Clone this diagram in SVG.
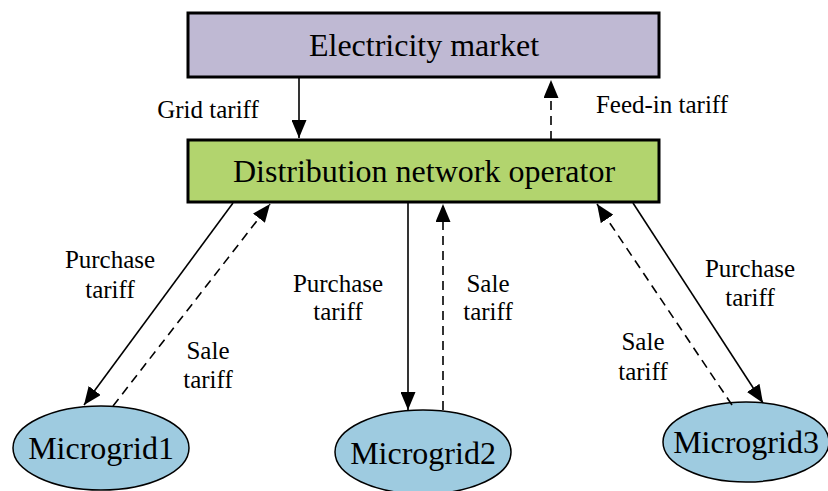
<svg xmlns="http://www.w3.org/2000/svg" width="828" height="491" viewBox="0 0 828 491">
<defs>
<marker id="ah" markerUnits="userSpaceOnUse" markerWidth="18" markerHeight="15" viewBox="0 0 18 15" refX="18" refY="7.5" orient="auto">
<path d="M0,0 L18,7.5 L0,15 Z" fill="#000"/>
</marker>
<style>
.box{stroke:#000;stroke-width:3}
.ell{fill:#9ECBE0;stroke:#000;stroke-width:1.5}
.t{font-family:"Liberation Serif","Times New Roman",serif;fill:#000;text-anchor:middle}
.big{font-size:32px}
.mg{font-size:32px}
.lb{font-size:25px}
.s{stroke:#000;stroke-width:1.6;fill:none;marker-end:url(#ah)}
.d{stroke:#000;stroke-width:1.6;fill:none;stroke-dasharray:9,6;marker-end:url(#ah)}
</style>
</defs>
<rect width="828" height="491" fill="#fff"/>
<g id="market">
<rect class="box" x="188" y="13" width="471" height="64" fill="#BFB9D3"/>
<text class="t big" x="424" y="56">Electricity market</text>
</g>
<g id="dno">
<rect class="box" x="188" y="140" width="471" height="62" fill="#B2D46E"/>
<text class="t big" x="424" y="182">Distribution network operator</text>
</g>
<g id="mg1">
<ellipse class="ell" cx="101" cy="448" rx="88" ry="42"/>
<text class="t mg" x="101" y="459">Microgrid1</text>
</g>
<g id="mg2">
<ellipse class="ell" cx="423" cy="452" rx="88" ry="42"/>
<text class="t mg" x="423" y="464">Microgrid2</text>
</g>
<g id="mg3">
<ellipse class="ell" cx="746" cy="442" rx="83" ry="40"/>
<text class="t mg" x="746" y="453">Microgrid3</text>
</g>
<g id="connectors">
<line class="s" x1="299" y1="77" x2="299" y2="138"/>
<line class="d" x1="551" y1="140" x2="551" y2="80"/>
<line class="s" x1="233" y1="203" x2="84" y2="405"/>
<line class="d" x1="113" y1="406" x2="270" y2="204"/>
<line class="s" x1="408" y1="203" x2="408" y2="410"/>
<line class="d" x1="443" y1="410" x2="443" y2="204"/>
<line class="s" x1="633" y1="203" x2="763" y2="403"/>
<line class="d" x1="732" y1="405" x2="597" y2="204"/>
</g>
<g id="labels">
<text class="t lb" x="208" y="118">Grid tariff</text>
<text class="t lb" x="662" y="113">Feed-in tariff</text>
<text class="t lb" x="110" y="268">Purchase</text>
<text class="t lb" x="110" y="298">tariff</text>
<text class="t lb" x="208" y="359">Sale</text>
<text class="t lb" x="208" y="388">tariff</text>
<text class="t lb" x="338" y="292">Purchase</text>
<text class="t lb" x="338" y="320">tariff</text>
<text class="t lb" x="488" y="292">Sale</text>
<text class="t lb" x="488" y="320">tariff</text>
<text class="t lb" x="750" y="277">Purchase</text>
<text class="t lb" x="750" y="306">tariff</text>
<text class="t lb" x="643" y="350">Sale</text>
<text class="t lb" x="643" y="380">tariff</text>
</g>
</svg>
